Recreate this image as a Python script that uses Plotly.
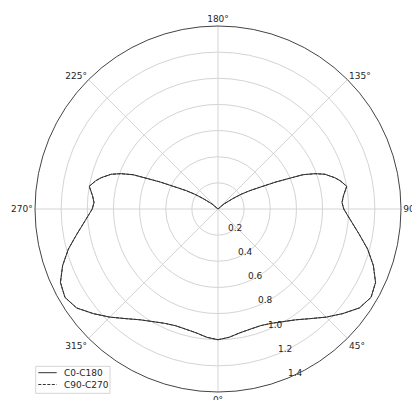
import plotly.graph_objects as go

# Angles (degrees) and relative intensities
theta_deg = [0, 5, 10, 15, 20, 25, 30, 35, 40, 45, 50, 55, 60, 65, 70, 75, 80, 85, 90,
             93, 96, 100, 103, 105, 108, 110, 112, 115, 118, 120, 122.5, 125, 130, 135,
             150, 165, 180, 195, 210, 225, 230, 235, 237.5, 240, 242, 245, 248, 250, 252,
             255, 257, 260, 264, 267, 270, 275, 280, 285, 290, 295, 300, 305, 310, 315,
             320, 325, 330, 335, 340, 345, 350, 355, 360]

r_c0_c180 = [1.000, 0.985, 0.962, 0.952, 0.950, 0.965, 0.995, 1.035, 1.095, 1.170, 1.245,
             1.320, 1.352, 1.330, 1.265, 1.185, 1.095, 1.020, 0.962,
             0.950, 0.965, 1.000, 0.960, 0.925, 0.860, 0.790, 0.700, 0.490, 0.340, 0.280,
             0.210, 0.140, 0.060, 0.000,
             0.0, 0.0, 0.0, 0.0, 0.0, 0.0, 0.060, 0.140, 0.210, 0.280, 0.340, 0.490, 0.700,
             0.790, 0.860, 0.925, 0.960, 1.000, 0.965, 0.950, 0.962, 1.020, 1.095, 1.185,
             1.265, 1.330, 1.352, 1.320, 1.245, 1.170, 1.095, 1.035, 0.995, 0.965, 0.950,
             0.952, 0.962, 0.985, 1.000]

r_c90_c270 = [1.000, 0.985, 0.962, 0.952, 0.950, 0.965, 0.995, 1.035, 1.095, 1.170, 1.245,
              1.320, 1.352, 1.330, 1.265, 1.185, 1.095, 1.020, 0.962,
              0.950, 0.965, 1.000, 0.960, 0.925, 0.860, 0.790, 0.700, 0.490, 0.340, 0.280,
              0.210, 0.140, 0.060, 0.000,
              0.0, 0.0, 0.0, 0.0, 0.0, 0.0, 0.060, 0.140, 0.210, 0.280, 0.340, 0.490, 0.700,
              0.790, 0.860, 0.925, 0.960, 1.000, 0.965, 0.950, 0.962, 1.020, 1.095, 1.185,
              1.265, 1.330, 1.352, 1.320, 1.245, 1.170, 1.095, 1.035, 0.995, 0.965, 0.950,
              0.952, 0.962, 0.985, 1.000]

series_names = ["C0-C180", "C90-C270"]
series_dash = ["solid", "3px,1.5px"]

radial_ticks = [0.2, 0.4, 0.6, 0.8, 1.0, 1.2, 1.4]
radial_labels = ["0.2", "0.4", "0.6", "0.8", "1.0", "1.2", "1.4"]
radial_label_angle = 22.5
angle_ticks = [0, 45, 90, 135, 180, 225, 270, 315]
angle_labels = ["0°", "45°", "90°", "135°", "180°", "225°", "270°", "315°"]
R_MAX = 1.4

FONT = "DejaVu Sans"
TEXT_COLOR = "#262626"
LINE_COLOR = "#333333"

fig = go.Figure()
for name, rr, dash in zip(series_names, [r_c0_c180, r_c90_c270], series_dash):
    fig.add_trace(go.Scatterpolar(
        r=rr, theta=theta_deg, mode="lines", name=name,
        line=dict(color=LINE_COLOR, width=1, dash=dash)))

# radial tick labels, matplotlib style (along the 22.5° ray)
fig.add_trace(go.Scatterpolar(
    r=radial_ticks, theta=[radial_label_angle] * len(radial_ticks),
    mode="text", text=radial_labels, textposition="top right",
    textfont=dict(family=FONT, size=9, color=TEXT_COLOR),
    cliponaxis=False, hoverinfo="skip", showlegend=False))

# page body has an 8px margin
OFF = 8
W, H = 420, 400
ML, MT = 27, 18
PLOT = 366
MR, MB = W - ML - PLOT, H - MT - PLOT
pw, ph = PLOT, PLOT


def px(x):  # screen x -> paper
    return (x - OFF - ML) / pw


def py(y):  # screen y -> paper
    return (H - MB - (y - OFF)) / ph


# compact legend box (matplotlib style, lower left)
shapes = [dict(type="rect", xref="paper", yref="paper",
               x0=px(35.7), x1=px(110), y0=py(393.3), y1=py(366.3),
               line=dict(color="#d4d4d4", width=1), fillcolor="rgba(255,255,255,0.85)",
               layer="above")]
annotations = []
for i, (name, dash) in enumerate(zip(series_names, series_dash)):
    yy = 372.7 + i * 11.8
    shapes.append(dict(type="line", xref="paper", yref="paper",
                       x0=px(38.3), x1=px(56.7), y0=py(yy), y1=py(yy),
                       line=dict(color=LINE_COLOR, width=1, dash=dash),
                       layer="above"))
    annotations.append(dict(xref="paper", yref="paper", x=px(62), y=py(yy),
                            xanchor="left", yanchor="middle", showarrow=False,
                            text=name, font=dict(family=FONT, size=9, color=TEXT_COLOR)))

fig.update_layout(
    width=W, height=H,
    margin=dict(l=ML, r=MR, t=MT, b=MB, autoexpand=False),
    paper_bgcolor="white",
    font=dict(family=FONT, size=9, color=TEXT_COLOR),
    showlegend=False,
    shapes=shapes,
    annotations=annotations,
    polar=dict(
        bgcolor="white",
        domain=dict(x=[0, 1], y=[0, 1]),
        angularaxis=dict(
            rotation=270, direction="counterclockwise",
            tickmode="array", tickvals=angle_ticks, ticktext=angle_labels,
            showline=True, linecolor="#444444", linewidth=1,
            showgrid=True, gridcolor="#d4d4d4", gridwidth=0.8,
            ticks="", tickfont=dict(size=9, family=FONT, color=TEXT_COLOR)),
        radialaxis=dict(
            range=[0, R_MAX], angle=-67.5,
            tickmode="array", tickvals=radial_ticks, ticktext=radial_labels,
            showticklabels=False, showline=False, ticks="",
            showgrid=True, gridcolor="#d4d4d4", gridwidth=0.8),
    ),
)

fig.write_html("out.html")
